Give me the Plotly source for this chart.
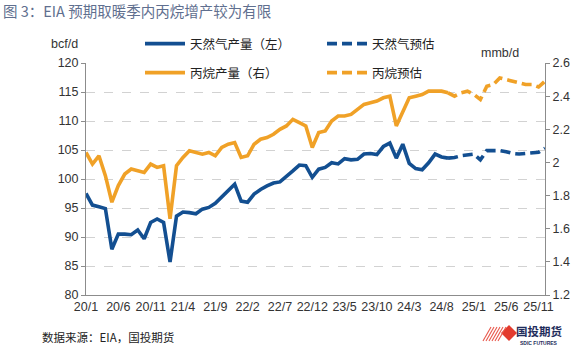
import plotly.graph_objects as go

# ---------------- data ----------------
years = ["20", "21", "22", "23", "24", "25"]
months = [f"{y}/{m}" for y in years for m in range(1, 13)]

tick_labels = ["20/1", "20/6", "20/11", "21/4", "21/9", "22/2", "22/7", "22/12",
               "23/5", "23/10", "24/3", "24/8", "25/1", "25/6", "25/11"]

# natural gas production, bcf/d (actual, 20/1 - 24/9)
gas_actual = [97.5, 95.5, 95.2, 94.9, 87.9, 90.5, 90.5, 90.4, 91.2, 89.7, 92.5, 93.1,
              92.5, 85.7, 93.6, 94.3, 94.2, 94.0, 94.8, 95.1, 95.8, 96.9, 98.1, 99.1,
              96.2, 96.0, 97.4, 98.2, 98.8, 99.3, 99.5, 100.4, 101.4, 102.4, 102.3, 100.3,
              101.7, 102.0, 102.8, 102.6, 103.5, 103.3, 103.4, 104.3, 104.4, 104.2, 105.6, 106.2,
              103.6, 106.0, 102.7, 101.8, 101.6, 102.8, 104.3, 103.8, 103.6]
# natural gas forecast (24/9 - 25/12)
gas_forecast = [103.6, 103.7, 104.0, 104.2, 104.3, 103.3, 104.9, 104.9,
                104.9, 104.7, 104.4, 104.3, 104.4, 104.4, 104.6, 105.3]

# propane production, mmb/d (actual, 20/1 - 24/9)
propane_actual = [2.06, 1.99, 2.04, 1.92, 1.76, 1.86, 1.93, 1.96, 1.95, 1.94, 1.99, 1.97,
                  1.98, 1.66, 1.98, 2.03, 2.07, 2.06, 2.05, 2.06, 2.04, 2.09, 2.11, 2.12,
                  2.03, 2.04, 2.11, 2.14, 2.15, 2.17, 2.20, 2.22, 2.26, 2.24, 2.22, 2.09,
                  2.18, 2.19, 2.25, 2.28, 2.28, 2.29, 2.32, 2.35, 2.36, 2.37, 2.39, 2.40,
                  2.22, 2.30, 2.39, 2.40, 2.41, 2.43, 2.43, 2.43, 2.42]
# propane forecast (24/9 - 25/12)
propane_forecast = [2.42, 2.40, 2.42, 2.43, 2.41, 2.38, 2.46, 2.47,
                    2.51, 2.50, 2.49, 2.48, 2.47, 2.47, 2.455, 2.49]

n_act = len(gas_actual)
fc_start = n_act - 1
x_act = months[:n_act]
x_fc = months[fc_start:]

# ---------------- style ----------------
BLUE = "#134f91"
ORANGE = "#f0a127"
CJK = "Noto Sans CJK SC"
LAT = "Liberation Sans, Arial, sans-serif"
LW = 3.6
DASH = "10px,5px"

# plot area in pixels (for placing decorations)
W_FIG, H_FIG = 584, 358
PL, PR, PT, PB = 86, 545, 63, 295


def fx(px):
    return (px - PL) / (PR - PL)


def fy(py):
    return (PB - py) / (PB - PT)


fig = go.Figure()

fig.add_trace(go.Scatter(x=x_act, y=gas_actual, mode="lines", name="天然气产量（左）",
                         line=dict(color=BLUE, width=LW), legend="legend"))
fig.add_trace(go.Scatter(x=x_fc, y=gas_forecast, mode="lines", name="天然气预估",
                         line=dict(color=BLUE, width=LW, dash=DASH), legend="legend"))
fig.add_trace(go.Scatter(x=x_act, y=propane_actual, mode="lines", name="丙烷产量（右）",
                         line=dict(color=ORANGE, width=LW), yaxis="y2", legend="legend2"))
fig.add_trace(go.Scatter(x=x_fc, y=propane_forecast, mode="lines", name="丙烷预估",
                         line=dict(color=ORANGE, width=LW, dash=DASH), yaxis="y2", legend="legend2"))

axis_font = dict(family=LAT, size=12.5, color="#333333")

legend_common = dict(orientation="h", xanchor="left", yanchor="middle",
                     font=dict(family=CJK, size=12.5, color="#222222"),
                     bgcolor="rgba(0,0,0,0)", entrywidth=127, entrywidthmode="pixels",
                     itemwidth=40, tracegroupgap=0, traceorder="normal")

fig.update_layout(
    width=W_FIG, height=H_FIG,
    margin=dict(l=PL, r=W_FIG - PR, t=PT, b=H_FIG - PB, autoexpand=False),
    paper_bgcolor="white", plot_bgcolor="white",
    title=dict(text="图 3：EIA 预期取暖季内丙烷增产较为有限", x=3 / W_FIG, xref="container",
               xanchor="left", y=1 - 12 / H_FIG, yref="container", yanchor="middle",
               font=dict(family=CJK, size=14.5, color="#5f6f8f")),
    xaxis=dict(type="category", categoryorder="array", categoryarray=months,
               range=[0, len(months) - 1], tickmode="array", tickvals=tick_labels,
               ticktext=tick_labels, showgrid=False, showline=True, linecolor="#8c8c8c",
               linewidth=1, ticks="", tickfont=axis_font, tickangle=0, zeroline=False),
    yaxis=dict(range=[80, 120], dtick=5, showgrid=True, gridcolor="#d2d2d2", griddash="dash",
               gridwidth=1, showline=True, linecolor="#8c8c8c", linewidth=1, ticks="outside",
               ticklen=4, tickcolor="#8c8c8c", tickfont=axis_font, zeroline=False),
    yaxis2=dict(range=[1.2, 2.6], dtick=0.2, overlaying="y", side="right", showgrid=False,
                showline=True, linecolor="#8c8c8c", linewidth=1, ticks="outside", ticklen=4,
                tickcolor="#8c8c8c", tickfont=axis_font, zeroline=False),
    legend=dict(x=fx(140), y=fy(44), **legend_common),
    legend2=dict(x=fx(140), y=fy(73), **legend_common),
    showlegend=True,
)

annotations = [
    dict(text="bcf/d", x=fx(64), y=fy(44), xanchor="center", yanchor="middle",
         font=dict(family=LAT, size=12.5, color="#333333")),
    dict(text="mmb/d", x=fx(500), y=fy(53), xanchor="center", yanchor="middle",
         font=dict(family=LAT, size=12.5, color="#333333")),
    dict(text="数据来源：EIA，国投期货", x=fx(40), y=fy(337), xanchor="left", yanchor="middle",
         font=dict(family=CJK, size=11.5, color="#222222")),
    dict(text="<b>国投期货</b>", x=fx(539), y=fy(331), xanchor="center", yanchor="middle",
         font=dict(family=CJK, size=11.5, color="#1f2d5c")),
    dict(text="<b>SDIC FUTURES</b>", x=fx(539), y=fy(343), xanchor="center", yanchor="middle",
         font=dict(family=LAT, size=5, color="#1f2d5c")),
]
for a in annotations:
    a.update(xref="paper", yref="paper", showarrow=False)
fig.update_layout(annotations=annotations)

# logo: red diamond with stripes
shapes = [dict(type="path", xref="paper", yref="paper",
               path=f"M {fx(509)},{fy(325)} L {fx(517)},{fy(333)} L {fx(509)},{fy(341)} L {fx(501)},{fy(333)} Z",
               fillcolor="#e33b2e", line=dict(width=0))]
for k in range(6):
    x0 = 483 + k * 3
    shapes.append(dict(type="line", xref="paper", yref="paper",
                       x0=fx(x0), y0=fy(341), x1=fx(x0 + 8), y1=fy(327),
                       line=dict(color="#e8584c", width=1.1)))
fig.update_layout(shapes=shapes)

fig.write_html("out.html", config={"displayModeBar": False},
               post_script="document.body.style.margin='0px';document.body.style.overflow='hidden';")
